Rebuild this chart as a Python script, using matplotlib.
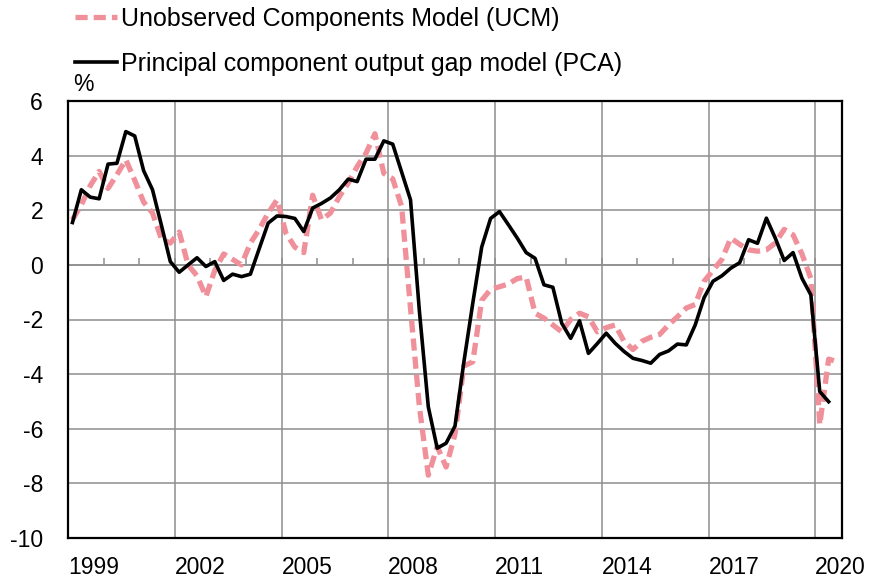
import numpy as np
import matplotlib
matplotlib.use("Agg")
import matplotlib.pyplot as plt

plt.rcParams['font.family'] = ['Liberation Sans', 'DejaVu Sans']
plt.rcParams['axes.unicode_minus'] = False

# Output gap estimates (%), quarterly from 1999Q1
ucm = [1.65, 2.2, 2.9, 3.42, 2.8, 3.3, 3.85, 3.1, 2.3, 1.9, 0.95, 0.8,
       1.2, 0.0, -0.4, -1.16, -0.2, 0.4, 0.2, 0.0, 0.8, 1.3, 1.9, 2.38,
       1.16, 0.65, 0.45, 2.55, 1.65, 1.9, 2.5, 3.0, 3.6, 4.09, 4.8, 3.35,
       3.15, 2.14, -1.6, -5.2, -7.7, -6.65, -7.4, -6.2, -3.7, -3.55, -1.3, -0.9,
       -0.8, -0.7, -0.5, -0.45, -1.77, -1.95, -2.2, -2.45, -2.0, -1.77, -1.9, -2.45,
       -2.3, -2.2, -2.8, -3.1, -2.8, -2.65, -2.55, -2.2, -1.9, -1.58, -1.45, -0.6,
       -0.2, 0.2, 0.98, 0.75, 0.55, 0.5, 0.55, 0.8, 1.3, 1.1, 0.4, -0.5,
       -5.85, -3.45, -3.55]

pca = [1.55, 2.75, 2.48, 2.42, 3.69, 3.72, 4.88, 4.72, 3.45, 2.75, 1.45, 0.12,
       -0.27, 0.0, 0.26, -0.06, 0.12, -0.57, -0.34, -0.43, -0.34, 0.6, 1.53, 1.79,
       1.77, 1.70, 1.22, 2.08, 2.25, 2.45, 2.75, 3.14, 3.05, 3.87, 3.87, 4.54,
       4.42, 3.4, 2.38, -1.7, -5.2, -6.71, -6.53, -5.9, -3.55, -1.4, 0.65, 1.7,
       1.95, 1.47, 0.98, 0.45, 0.24, -0.73, -0.82, -2.14, -2.69, -2.05, -3.24, -2.88,
       -2.5, -2.87, -3.17, -3.42, -3.5, -3.6, -3.28, -3.15, -2.9, -2.93, -2.2, -1.2,
       -0.6, -0.4, -0.12, 0.08, 0.92, 0.79, 1.71, 0.98, 0.16, 0.45, -0.49, -1.10,
       -4.64, -5.01]

start_year = 1999
label_years = [1999, 2002, 2005, 2008, 2011, 2014, 2017, 2020]
y_ticks = [-10, -8, -6, -4, -2, 0, 2, 4, 6]

# quarter mid-points in years
x_ucm = start_year + (np.arange(len(ucm)) + 0.5) / 4
x_pca = start_year + (np.arange(len(pca)) + 0.5) / 4

fig = plt.figure(figsize=(8.72, 5.80), dpi=100)
ax = fig.add_axes([68 / 872, 1 - 538 / 580, 774 / 872, 437 / 580])

grid_col = '#8e8e8e'
ax.plot(x_ucm, ucm, color='#f0909a', lw=3.8, dashes=(2.3, 1.15),
        label='Unobserved Components Model (UCM)')
ax.plot(x_pca, pca, color='black', lw=2.6,
        label='Principal component output gap model (PCA)')

ax.set_xlim(1999, 2020.75)
ax.set_ylim(-10, 6)
ax.set_yticks(y_ticks)
ax.set_xticks(label_years)
ax.set_xticklabels([str(y) for y in label_years])
for lab in ax.get_xticklabels():
    lab.set_horizontalalignment('left')
ax.tick_params(axis='both', length=0, labelsize=16.5)
ax.tick_params(axis='y', pad=18)
ax.tick_params(axis='x', pad=13)
ax.grid(True, color=grid_col, lw=1.1)
ax.set_axisbelow(True)
for sp in ax.spines.values():
    sp.set_color('black')
    sp.set_linewidth(1.6)

# yearly tick marks on the zero line
zero_pos = (0 - (-10)) / 16
sec = ax.secondary_xaxis(zero_pos)
sec.set_xticks(range(1999, 2021))
sec.tick_params(axis='x', direction='out', length=5, width=1.1, color=grid_col,
                labeltop=False, labelbottom=False)
sec.spines['top'].set_color(grid_col)
sec.spines['top'].set_linewidth(1.1)

ax.text(0.006, 1.012, '%', transform=ax.transAxes, fontsize=16.5,
        ha='left', va='bottom')

ax.legend(loc='upper left', bbox_to_anchor=(75 / 872, 0.988),
          bbox_transform=fig.transFigure, frameon=False, fontsize=18,
          handlelength=1.68, handletextpad=0.16, labelspacing=0.84,
          borderpad=0, borderaxespad=0)

fig.savefig('out.png', dpi=100)
